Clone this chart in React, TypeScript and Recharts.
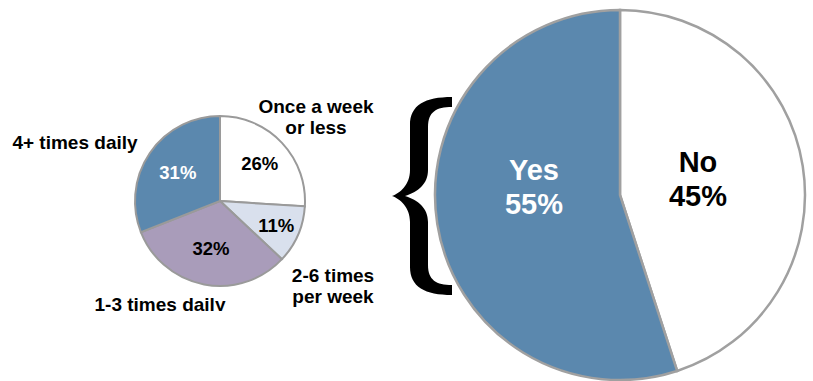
import { PieChart, Pie, Cell } from 'recharts';

// frequency breakdown (small pie), clockwise from 12 o'clock
const freqNames = ['Once a week or less', '2-6 times per week', '1-3 times daily', '4+ times daily'];
const freqLines = [['Once a week', 'or less'], ['2-6 times', 'per week'], ['1-3 times daily'], ['4+ times daily']];
const freqValues = [26, 11, 32, 31];
const freqColors = ['#ffffff', '#d9e0ed', '#a99cba', '#5b88ae'];
const freqTextColors = ['#000', '#000', '#000', '#fff'];

// yes / no (big pie)
const ynNames = ['No', 'Yes'];
const ynValues = [45, 55];
const ynColors = ['#ffffff', '#5b88ae'];
const ynTextColors = ['#000', '#fff'];

const freqData = freqNames.map((name, i) => ({ name, value: freqValues[i] }));
const ynData = ynNames.map((name, i) => ({ name, value: ynValues[i] }));

const RAD = Math.PI / 180;
const FONT = '"Liberation Sans", Arial, sans-serif';

// label layout tweaks (inner radius ratio, outer label offset from centre)
const innerRatio = [0.64, 0.72, 0.57, 0.6];
const outerOffset = [[96, -85], [113, 84], [-60, 103], [-145, -59]];
const ynOffset = [[78, -16], [-86, -8]];

const renderFreqLabel = (p: any) => {
  const { cx, cy, midAngle, outerRadius, index, value } = p;
  const r = outerRadius * innerRatio[index];
  const x = cx + r * Math.cos(-midAngle * RAD);
  const y = cy + r * Math.sin(-midAngle * RAD);
  const [dx, dy] = outerOffset[index];
  const lines = freqLines[index];
  const lh = 21;
  return (
    <g key={`fl-${index}`}>
      <text x={x} y={y} textAnchor="middle" dominantBaseline="central" fill={freqTextColors[index]}
        fontFamily={FONT} fontWeight="bold" fontSize={18.5}>{value}%</text>
      <text x={cx + dx} y={cy + dy - ((lines.length - 1) * lh) / 2} textAnchor="middle" dominantBaseline="central"
        fill="#000" fontFamily={FONT} fontWeight="bold" fontSize={19} clipPath="url(#clipBottom)">
        {lines.map((l, k) => (
          <tspan key={k} x={cx + dx} dy={k === 0 ? 0 : lh}>{l}</tspan>
        ))}
      </text>
    </g>
  );
};

const renderYnLabel = (p: any) => {
  const { cx, cy, index, value, name } = p;
  const [dx, dy] = ynOffset[index];
  const lh = 34;
  return (
    <text key={`yn-${index}`} x={cx + dx} y={cy + dy - lh / 2} textAnchor="middle" dominantBaseline="central"
      fill={ynTextColors[index]} fontFamily={FONT} fontWeight="bold" fontSize={29}>
      <tspan x={cx + dx} dy={0}>{name}</tspan>
      <tspan x={cx + dx} dy={lh}>{value}%</tspan>
    </text>
  );
};

export default function App() {
  return (
    <div style={{ position: 'absolute', left: 0, top: 0, width: 813, height: 381, background: '#fff' }}>
      <PieChart width={813} height={381} margin={{ top: 0, right: 0, bottom: 0, left: 0 }}>
        <defs>
          <clipPath id="clipBottom">
            <rect x={0} y={0} width={813} height={311} />
          </clipPath>
        </defs>
        <Pie data={freqData} dataKey="value" nameKey="name" cx={220} cy={201} outerRadius={85}
          startAngle={90} endAngle={-270} stroke="#9a9a9a" strokeWidth={2}
          label={renderFreqLabel} labelLine={false} isAnimationActive={false}>
          {freqData.map((d, i) => <Cell key={d.name} fill={freqColors[i]} />)}
        </Pie>
        <Pie data={ynData} dataKey="value" nameKey="name" cx={620} cy={195} outerRadius={185}
          startAngle={90} endAngle={-270} stroke="#a0a0a0" strokeWidth={2.5}
          label={renderYnLabel} labelLine={false} isAnimationActive={false}>
          {ynData.map((d, i) => <Cell key={d.name} fill={ynColors[i]} />)}
        </Pie>
      </PieChart>
      <svg width={813} height={381} style={{ position: 'absolute', left: 0, top: 0, pointerEvents: 'none' }}>
        <path
          fill="#000"
          d="M452 97 C425 97 410 105 410 125 L410 170 C410 185 400 193 392 196 C400 199 410 207 410 222 L410 267 C410 287 425 295 452 295 L452 285 C436 285 428 280 428 265 L428 222 C428 208 418 200 405 196 C418 192 428 184 428 170 L428 127 C428 112 436 107 452 107 Z"
        />
      </svg>
    </div>
  );
}
